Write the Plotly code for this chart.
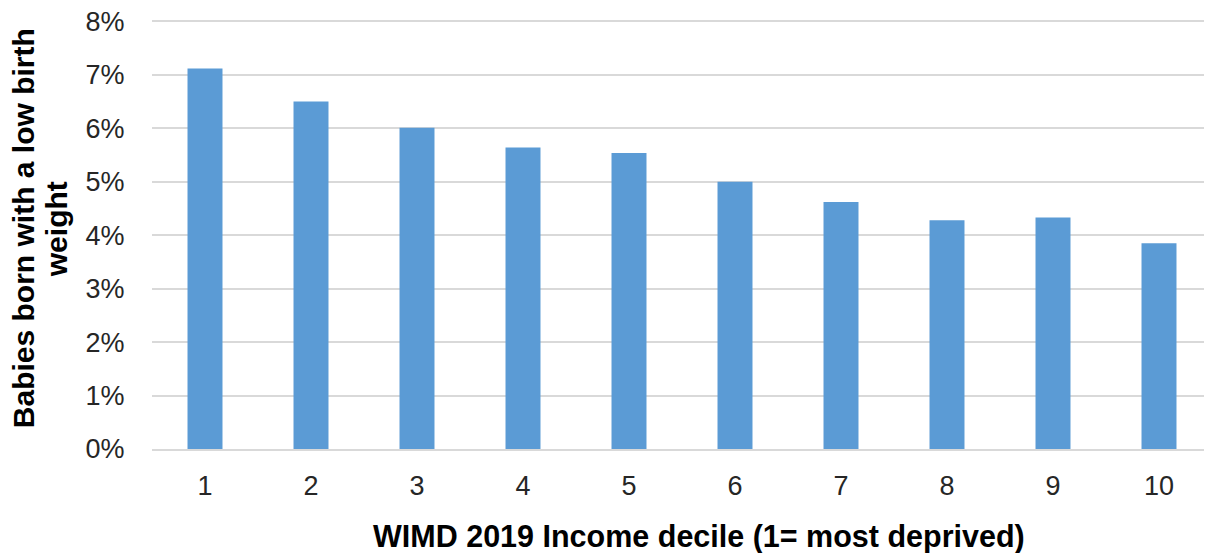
import plotly.graph_objects as go

deciles = ["1", "2", "3", "4", "5", "6", "7", "8", "9", "10"]
low_birth_weight = [0.0712, 0.0650, 0.0601, 0.0564, 0.0554, 0.0500, 0.0462, 0.0428, 0.0433, 0.0385]
y_ticks = [0, 0.01, 0.02, 0.03, 0.04, 0.05, 0.06, 0.07, 0.08]
y_title_lines = ["Babies born with a low birth", "weight"]
x_title = "WIMD 2019 Income decile (1= most deprived)"

# page has an 8px body margin; size the figure to fit the 1212x553 window
OFF = 8
W, H = 1212 - OFF, 553 - OFF
Y_MAX = 0.0812
# 0% at page y=449, 8% at page y=21
px_per_unit = (449 - 21) / 0.08
plot_top_page = 449 - Y_MAX * px_per_unit
ml, mr, mb = 152 - OFF, 0, 104
mt = plot_top_page - OFF
PW, PH = W - ml - mr, H - mt - mb


def px(xp):
    return (xp - OFF - ml) / PW


def py(yp):
    return 1 - (yp - OFF - mt) / PH


fig = go.Figure(go.Bar(
    x=deciles, y=low_birth_weight,
    marker=dict(color="#5b9bd5", line=dict(width=0)),
    width=0.33,
))

fig.update_layout(
    width=W, height=H,
    margin=dict(l=ml, r=mr, t=mt, b=mb, pad=0),
    paper_bgcolor="white", plot_bgcolor="white",
    font=dict(family="Liberation Sans, Arial", color="#262626", size=27),
    showlegend=False,
    xaxis=dict(
        type="category",
        showgrid=False, showline=True, linecolor="#d9d9d9", linewidth=2,
        ticks="outside", ticklen=12, tickcolor="rgba(0,0,0,0)",
        tickfont=dict(size=27, color="#262626"),
    ),
    yaxis=dict(
        range=[0, Y_MAX], tickvals=y_ticks, ticktext=[f"{round(v*100)}%" for v in y_ticks],
        showgrid=True, gridcolor="#d9d9d9", gridwidth=2,
        zeroline=False, showline=False,
        ticks="outside", ticklen=21, tickcolor="rgba(0,0,0,0)",
        ticklabeloverflow="allow",
        tickfont=dict(size=27, color="#262626"),
    ),
    annotations=[
        dict(text="<b>" + y_title_lines[0] + "</b>", textangle=-90,
             xref="paper", yref="paper", x=px(23), y=py(228),
             xanchor="center", yanchor="middle", showarrow=False,
             font=dict(size=30, color="black")),
        dict(text="<b>" + y_title_lines[1] + "</b>", textangle=-90,
             xref="paper", yref="paper", x=px(56), y=py(229),
             xanchor="center", yanchor="middle", showarrow=False,
             font=dict(size=30, color="black")),
        dict(text="<b>" + x_title + "</b>",
             xref="paper", yref="paper", x=px(699), y=py(537),
             xanchor="center", yanchor="middle", showarrow=False,
             font=dict(size=30.5, color="black")),
    ],
)

fig.write_html("out.html")
